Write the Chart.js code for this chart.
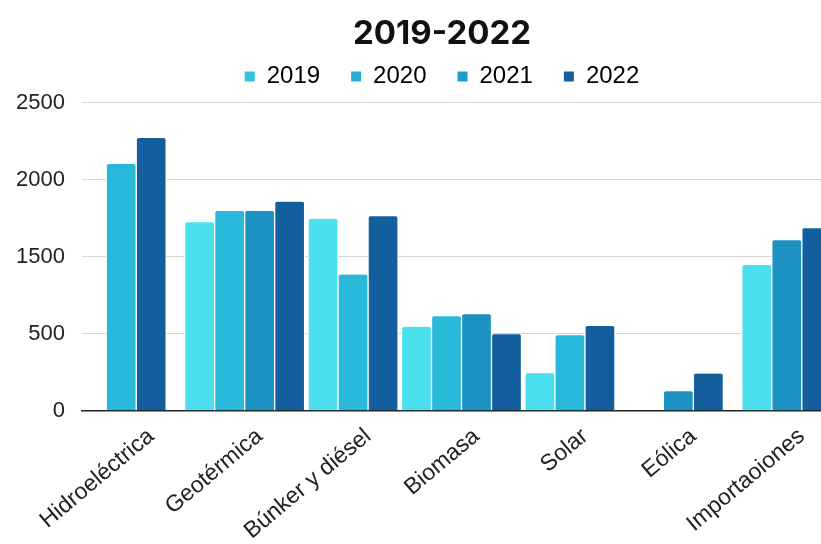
<!DOCTYPE html>
<html>
<head>
<meta charset="utf-8">
<script src="https://cdn.jsdelivr.net/npm/chart.js@4.4.1/dist/chart.umd.min.js"></script>
<style>
  html, body { margin: 0; padding: 0; background: #fff; overflow: hidden; }
  #wrap { position: absolute; left: 0; top: 0; width: 882px; height: 549px; }
</style>
</head>
<body>
<div id="wrap"><canvas id="energy-chart"></canvas></div>
<script>
// categories and yearly values (read in axis units; gaps are null)
var categories = ['Hidroeléctrica', 'Geotérmica', 'Búnker y diésel', 'Biomasa', 'Solar', 'Eólica', 'Importaoiones'];
var years = ['2019', '2020', '2021', '2022'];
var values2019 = [null, 1224, 1246, 545, 244, 4, 946];
var values2020 = [1601, 1296, 884, 614, 490, null, null];
var values2021 = [null, 1296, null, 627, null, 126, 1107];
var values2022 = [1771, 1357, 1263, 497, 551, 242, 1185];
var yTickLabels = ['0', '500', '1500', '2000', '2500'];

var barColors = ['#4be0ee', '#28b8d9', '#1b92c2', '#135f9e'];
var legendColors = ['#30c4e0', '#26afd6', '#1f9ccc', '#14609e'];

var series = [values2019, values2020, values2021, values2022];
var datasets = [];
for (var i = 0; i < years.length; i++) {
    datasets.push({
        label: years[i],
        data: series[i],
        backgroundColor: barColors[i],
        borderColor: '#ffffff',
        borderWidth: { left: 1, right: 1, top: 0, bottom: 0 },
        borderRadius: 3,
        borderSkipped: 'bottom',
        barThickness: 30,
        skipNull: true
    });
}

var ctx = document.getElementById('energy-chart').getContext('2d');
var chart = new Chart(ctx, {
    type: 'bar',
    data: {
        labels: categories,
        datasets: datasets
    },
    options: {
        responsive: true,
        maintainAspectRatio: false,
        animation: false,
        layout: {
            autoPadding: false,
            padding: { left: 16, right: 14, top: 6, bottom: 0 }
        },
        plugins: {
            title: {
                display: true,
                text: '2019-2022',
                color: '#111',
                font: { family: 'Inter, "Liberation Sans", sans-serif', size: 33, weight: 'bold' },
                padding: { top: 8, bottom: -20 }
            },
            legend: {
                position: 'top',
                labels: {
                    color: '#222',
                    font: { family: '"Liberation Sans", sans-serif', size: 24 },
                    boxWidth: 10,
                    boxHeight: 10,
                    padding: 31,
                    generateLabels: function (chart) {
                        return chart.data.datasets.map(function (ds, idx) {
                            return {
                                text: ds.label,
                                fillStyle: legendColors[idx],
                                strokeStyle: legendColors[idx],
                                lineWidth: 0,
                                hidden: false,
                                datasetIndex: idx
                            };
                        });
                    }
                }
            },
            tooltip: { enabled: false }
        },
        scales: {
            x: {
                grid: { display: false },
                border: { display: true, color: '#222', width: 1.5 },
                ticks: {
                    color: '#222',
                    font: { family: '"Liberation Sans", sans-serif', size: 23 },
                    autoSkip: false,
                    maxRotation: 40,
                    minRotation: 40,
                    labelOffset: 15,
                    padding: 4
                },
                afterFit: function (scale) {
                    scale.paddingLeft = 0;
                    scale.paddingRight = 0;
                }
            },
            y: {
                min: 0,
                max: 2026,
                border: { display: false },
                grid: {
                    drawTicks: false,
                    color: function (c) {
                        return c.tick && c.tick.value === 0 ? '#222' : '#d6d6d6';
                    }
                },
                afterBuildTicks: function (scale) {
                    scale.ticks = yTickLabels.map(function (t, idx) {
                        return { value: idx * 500 };
                    });
                },
                afterFit: function (scale) {
                    scale.width = 66;
                },
                ticks: {
                    padding: 17,
                    color: '#222',
                    font: { family: '"Liberation Sans", sans-serif', size: 22 },
                    callback: function (value) {
                        return yTickLabels[Math.round(value / 500)];
                    }
                }
            },
            // empty right-hand box, keeps title and legend centred like the original
            yRight: {
                position: 'right',
                display: true,
                grid: { display: false },
                border: { display: false },
                ticks: { display: false },
                afterFit: function (scale) {
                    scale.width = 27;
                }
            }
        }
    }
});
</script>
</body>
</html>
